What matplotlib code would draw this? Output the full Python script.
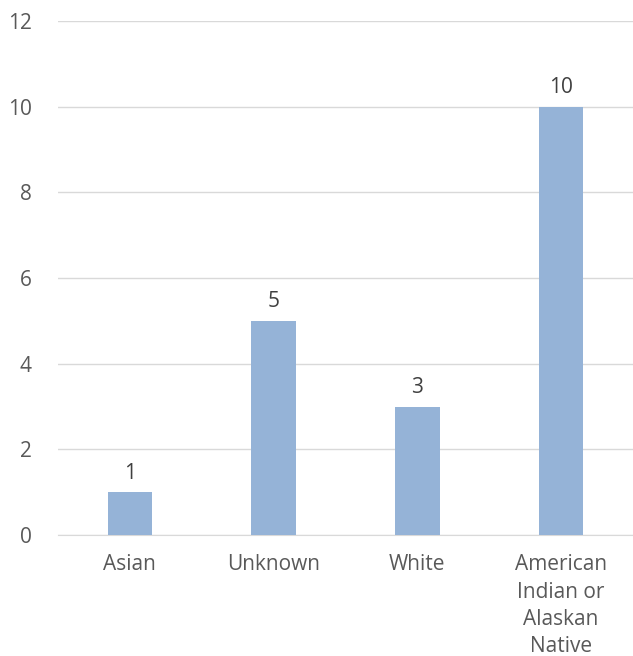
import matplotlib
matplotlib.use("Agg")
import matplotlib.pyplot as plt
import numpy as np

categories = ["Asian", "Unknown", "White", "American\nIndian or\nAlaskan\nNative"]
counts = [1, 5, 3, 10]
y_ticks = [0, 2, 4, 6, 8, 10, 12]

BAR = "#95B3D7"
TEXT = "#595959"
GRID = "#D9D9D9"

plt.rcParams["font.family"] = ["Open Sans", "DejaVu Sans"]

fig = plt.figure(figsize=(6.33, 6.56), dpi=100)
ax = fig.add_axes([58 / 633, 1 - 535 / 656, 575 / 633, 514 / 656])

x = np.arange(len(categories))
ax.bar(x, counts, width=0.31, color=BAR, zorder=3)
for xi, v in zip(x, counts):
    ax.text(xi, v + 0.2, str(v), ha="center", va="bottom", fontsize=15, color="#404040")

ax.set_xlim(-0.5, len(categories) - 0.5)
ax.set_ylim(0, 12)
ax.set_yticks(y_ticks)
ax.set_yticklabels([str(t) for t in y_ticks], fontsize=15, color=TEXT)
ax.set_xticks(x)
ax.set_xticklabels(categories, fontsize=15, color=TEXT, linespacing=1.38)
ax.tick_params(axis="both", length=0)
ax.tick_params(axis="y", pad=19)
ax.tick_params(axis="x", pad=14)
ax.yaxis.grid(True, color=GRID, lw=1, zorder=0)
for sp in ["top", "right", "left"]:
    ax.spines[sp].set_visible(False)
ax.spines["bottom"].set_color(GRID)

fig.savefig("out.png", dpi=100)
